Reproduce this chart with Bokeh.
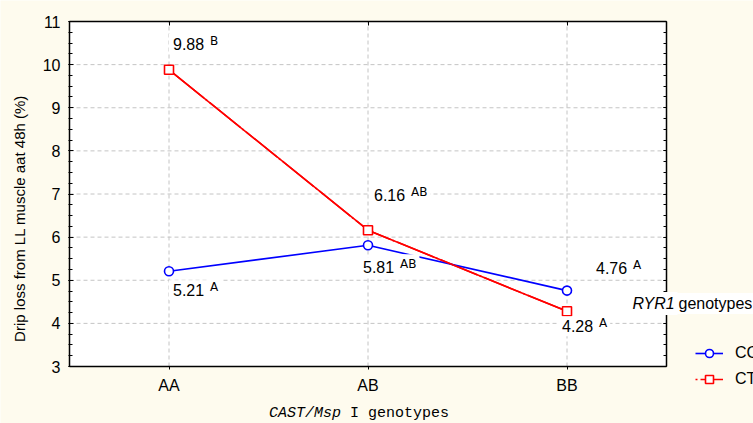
import math
from bokeh.plotting import figure
from bokeh.models import (ColumnDataSource, Label, Legend, LegendItem, LinearAxis, BoxAnnotation,
                          FixedTicker, SingleIntervalTicker, Range1d)
from bokeh.embed import file_html
from bokeh.resources import INLINE

# ---- data ----
categories = ["AA", "AB", "BB"]
cc_values = [5.21, 5.81, 4.76]
ct_values = [9.88, 6.16, 4.28]
cc_letters = ["A", "AB", "A"]
ct_letters = ["B", "AB", "A"]
y_ticks = [3, 4, 5, 6, 7, 8, 9, 10, 11]

BG = "#FEFBEE"
FONT = "Liberation Sans"
MONO = "Liberation Mono"

# ---- layout (pixels): canvas and the white plot box inside it ----
W, H = 753, 423
PL, PR, PT, PB = 69, 666, 21, 366

x_idx = list(range(len(categories)))
x_lo, x_hi = -0.5, len(categories) - 0.5
y_lo, y_hi = y_ticks[0], y_ticks[-1]
xs = (PR - PL) / (x_hi - x_lo)
ys = (PB - PT) / (y_hi - y_lo)

p = figure(width=W, height=H, output_backend="svg", toolbar_location=None,
           x_range=Range1d(x_lo - PL / xs, x_hi + (W - PR) / xs),
           y_range=Range1d(y_lo - (H - PB) / ys, y_hi + PT / ys),
           min_border=0, x_axis_location=None, y_axis_location=None)
p.background_fill_color = BG
p.border_fill_color = BG
p.outline_line_color = None
p.grid.visible = False

# white plot area
p.add_layout(BoxAnnotation(left=x_lo, right=x_hi, bottom=y_lo, top=y_hi, fill_color="white",
                           fill_alpha=1, line_color=None, level="underlay"))

# axes, fixed at the plot box edges
xt = FixedTicker(ticks=x_idx)
yt = SingleIntervalTicker(interval=1, num_minor_ticks=4)
overrides = {i: c for i, c in enumerate(categories)}
blank_y = {t: "" for t in y_ticks}
blank_x = {i: "" for i in x_idx}

left = LinearAxis(ticker=yt, fixed_location=x_lo, bounds=(y_lo, y_hi),
                  major_label_text_font=FONT, major_label_text_font_size="16px",
                  major_label_text_color="black",
                  major_tick_in=4, major_tick_out=1, minor_tick_in=3, minor_tick_out=1,
                  axis_line_width=1.5, major_label_standoff=8)
right = LinearAxis(ticker=yt, fixed_location=x_hi, bounds=(y_lo, y_hi),
                   major_label_overrides=blank_y, major_label_text_font_size="16px",
                   major_tick_in=3, major_tick_out=0, minor_tick_in=3, minor_tick_out=0,
                   axis_line_width=1.5)
bottom = LinearAxis(ticker=xt, fixed_location=y_lo, bounds=(x_lo, x_hi),
                    major_label_overrides=overrides, major_label_text_font=FONT,
                    major_label_text_font_size="16px", major_label_text_color="black",
                    major_tick_in=0, major_tick_out=3,
                    minor_tick_line_color=None, axis_line_width=1.5, major_label_standoff=7)
top = LinearAxis(ticker=xt, fixed_location=y_hi, bounds=(x_lo, x_hi),
                 major_label_overrides=blank_x, major_label_text_font_size="16px",
                 major_tick_in=4, major_tick_out=0,
                 minor_tick_line_color=None, axis_line_width=1.5)
p.add_layout(left, "left")
p.add_layout(right, "right")
p.add_layout(bottom, "below")
p.add_layout(top, "above")

# dashed grid lines inside the plot box
GRID = dict(line_color="#c4c4c4", line_dash="4 3", line_width=1)
p.segment(x0=[x_lo] * len(y_ticks), x1=[x_hi] * len(y_ticks), y0=y_ticks, y1=y_ticks, **GRID)
p.segment(x0=x_idx, x1=x_idx, y0=[y_lo] * len(x_idx), y1=[y_hi] * len(x_idx), **GRID)

cc_src = ColumnDataSource(dict(x=x_idx, y=cc_values))
ct_src = ColumnDataSource(dict(x=x_idx, y=ct_values))

ct_legend_line = p.line("x", "y", source=ct_src, line_color="#FF0000", line_width=1.6,
                        line_dash="2 3 40 2")
cc_line = p.line("x", "y", source=cc_src, line_color="#0000FF", line_width=1.6)
ct_line = p.line("x", "y", source=ct_src, line_color="#FF0000", line_width=1.6)
cc_mark = p.scatter("x", "y", source=cc_src, marker="circle", size=9, fill_color="white",
                    line_color="#0000FF", line_width=1.6)
ct_mark = p.scatter("x", "y", source=ct_src, marker="square", size=9, fill_color="white",
                    line_color="#FF0000", line_width=1.6)

# value labels: (dx, dy) pixel offsets of the number's left edge from its point
cc_offsets = [(4, -19), (-5, -22), (29, 23)]
ct_offsets = [(4, 26), (6, 35), (-5, -15)]
PAD_N, PAD_L = 4, 3


def add_value_labels(values, letters, offsets):
    for i, (v, l, (dx, dy)) in enumerate(zip(values, letters, offsets)):
        p.add_layout(Label(x=i, y=v, x_offset=dx + 37 - PAD_L, y_offset=dy + 3, text=l,
                           text_font="DejaVu Sans", text_font_size="12px", text_color="black",
                           text_align="left", text_baseline="middle",
                           background_fill_color="white", padding=PAD_L))
        p.add_layout(Label(x=i, y=v, x_offset=dx - PAD_N, y_offset=dy, text=f"{v:.2f}",
                           text_font=FONT, text_font_size="16px", text_color="black",
                           text_align="left", text_baseline="middle",
                           background_fill_color="white", padding=PAD_N))


add_value_labels(cc_values, cc_letters, cc_offsets)
add_value_labels(ct_values, ct_letters, ct_offsets)

# y axis title
p.add_layout(Label(x=x_lo, y=y_lo, x_offset=-50, y_offset=148, angle=math.pi / 2,
                   text="Drip loss from LL muscle aat 48h (%)", text_font=FONT,
                   text_color="black", text_font_size="15px", text_align="center",
                   text_baseline="middle"))

# x axis title
xc = (x_lo + x_hi) / 2
p.add_layout(Label(x=xc, y=y_lo, x_offset=-99, y_offset=-47, text="CAST/Msp",
                   text_font=MONO, text_font_style="italic", text_color="black",
                   text_font_size="15px", text_align="left", text_baseline="middle"))
p.add_layout(Label(x=xc, y=y_lo, x_offset=-18, y_offset=-47, text="I genotypes",
                   text_font=MONO, text_font_size="15px", text_color="black",
                   text_align="left", text_baseline="middle"))

# legend title
p.add_layout(Label(x=x_hi, y=y_lo, x_offset=10, y_offset=63, text="genotypes",
                   text_font=FONT, text_font_size="16px", text_color="black",
                   text_align="left", text_baseline="middle",
                   background_fill_color="white", padding=2))
p.add_layout(Label(x=x_hi, y=y_lo, x_offset=-37, y_offset=63, text="RYR1",
                   text_font=FONT, text_font_style="italic", text_font_size="16px",
                   text_color="black", text_align="left", text_baseline="middle",
                   background_fill_color="white", padding=3))

legend = Legend(items=[LegendItem(label="CC", renderers=[cc_line, cc_mark]),
                       LegendItem(label="CT", renderers=[ct_legend_line, ct_mark])],
                location=(695, H - 389), glyph_width=28, glyph_height=20, label_height=20,
                label_standoff=12, spacing=6, padding=0, margin=0,
                label_text_font=FONT, label_text_font_size="16px", label_text_color="black",
                border_line_color=None, background_fill_alpha=0)
p.add_layout(legend, "center")

html = file_html(p, INLINE)
html = html.replace("<body>", f'<body style="background:{BG}">', 1)
open("out.html", "w").write(html)
